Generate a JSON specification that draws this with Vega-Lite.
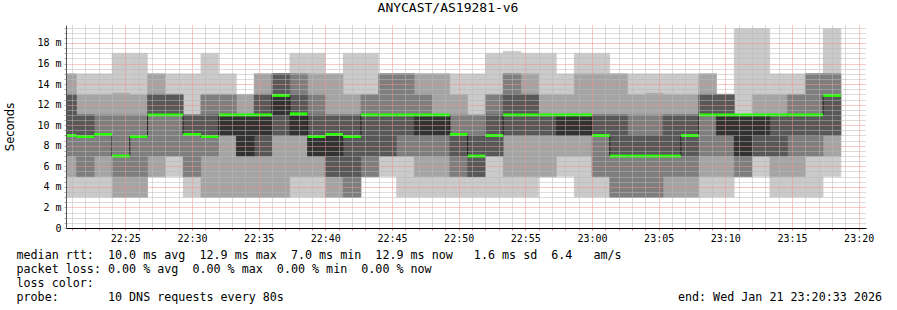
{
  "$schema": "https://vega.github.io/schema/vega-lite/v6.json",
  "width": 800,
  "height": 203,
  "autosize": {"type": "none"},
  "padding": {"left": 66, "top": 25, "right": 31, "bottom": 82},
  "background": "white",
  "title": {"text": "ANYCAST/AS19281-v6", "font": "DejaVu Sans Mono", "fontSize": 13, "fontWeight": "normal", "color": "#000000", "anchor": "middle", "frame": "group", "dx": -18, "dy": 14, "offset": 2, "baseline": "alphabetic"},
  "config": {
    "view": {"stroke": null},
    "axis": {"labelFont": "DejaVu Sans Mono", "labelFontSize": 10, "labelColor": "#000000", "titleFont": "DejaVu Sans Mono", "titleFontWeight": "normal", "titleColor": "#000000"}
  },
  "data": {"values": [
    {"t": "2026-01-21T22:20:00Z", "t2": "2026-01-21T22:21:20Z", "p1": 3, "p2": 5, "p3": 7, "p4": 9, "p5": 9, "p6": 9, "p7": 13, "p8": 13, "p9": 15, "p10": 15, "loss": "0"},
    {"t": "2026-01-21T22:21:20Z", "t2": "2026-01-21T22:22:40Z", "p1": 3, "p2": 5, "p3": 5, "p4": 8.9, "p5": 8.9, "p6": 8.9, "p7": 11, "p8": 11, "p9": 13, "p10": 15, "loss": "0"},
    {"t": "2026-01-21T22:22:40Z", "t2": "2026-01-21T22:24:00Z", "p1": 3, "p2": 5, "p3": 7, "p4": 9.1, "p5": 9.1, "p6": 9.1, "p7": 9.1, "p8": 11, "p9": 13, "p10": 15, "loss": "0"},
    {"t": "2026-01-21T22:24:00Z", "t2": "2026-01-21T22:25:20Z", "p1": 3, "p2": 3, "p3": 5, "p4": 7, "p5": 7, "p6": 7, "p7": 7, "p8": 11, "p9": 13.1, "p10": 17, "loss": "0"},
    {"t": "2026-01-21T22:25:20Z", "t2": "2026-01-21T22:26:40Z", "p1": 3, "p2": 3, "p3": 5, "p4": 8.9, "p5": 8.9, "p6": 8.9, "p7": 8.9, "p8": 11, "p9": 13, "p10": 17, "loss": "0"},
    {"t": "2026-01-21T22:26:40Z", "t2": "2026-01-21T22:28:00Z", "p1": 5, "p2": 5, "p3": 7, "p4": 11, "p5": 11, "p6": 11, "p7": 13, "p8": 13, "p9": 15, "p10": 15, "loss": "0"},
    {"t": "2026-01-21T22:28:00Z", "t2": "2026-01-21T22:29:20Z", "p1": 5, "p2": 7, "p3": 7, "p4": 11, "p5": 11, "p6": 11, "p7": 13, "p8": 13, "p9": 13, "p10": 15, "loss": "0"},
    {"t": "2026-01-21T22:29:20Z", "t2": "2026-01-21T22:30:40Z", "p1": 3, "p2": 5, "p3": 5, "p4": 9.1, "p5": 9.1, "p6": 9.1, "p7": 11, "p8": 11, "p9": 11, "p10": 15, "loss": "0"},
    {"t": "2026-01-21T22:30:40Z", "t2": "2026-01-21T22:32:00Z", "p1": 3, "p2": 3, "p3": 7, "p4": 8.9, "p5": 8.9, "p6": 8.9, "p7": 11, "p8": 13, "p9": 13, "p10": 17, "loss": "0"},
    {"t": "2026-01-21T22:32:00Z", "t2": "2026-01-21T22:33:20Z", "p1": 3, "p2": 3, "p3": 9, "p4": 9, "p5": 9, "p6": 11, "p7": 11, "p8": 13, "p9": 13, "p10": 15, "loss": "0"},
    {"t": "2026-01-21T22:33:20Z", "t2": "2026-01-21T22:34:40Z", "p1": 3, "p2": 3, "p3": 7, "p4": 7, "p5": 7, "p6": 11, "p7": 11, "p8": 11, "p9": 13, "p10": 13, "loss": "0"},
    {"t": "2026-01-21T22:34:40Z", "t2": "2026-01-21T22:36:00Z", "p1": 3, "p2": 3, "p3": 7, "p4": 7, "p5": 9, "p6": 11, "p7": 13, "p8": 13, "p9": 15, "p10": 15, "loss": "0"},
    {"t": "2026-01-21T22:36:00Z", "t2": "2026-01-21T22:37:20Z", "p1": 3, "p2": 3, "p3": 9, "p4": 9, "p5": 11, "p6": 12.9, "p7": 15, "p8": 15, "p9": 15, "p10": 15, "loss": "0"},
    {"t": "2026-01-21T22:37:20Z", "t2": "2026-01-21T22:38:40Z", "p1": 3, "p2": 5, "p3": 9, "p4": 9, "p5": 9, "p6": 11.1, "p7": 13, "p8": 15, "p9": 15, "p10": 17, "loss": "0"},
    {"t": "2026-01-21T22:38:40Z", "t2": "2026-01-21T22:40:00Z", "p1": 3, "p2": 5, "p3": 7, "p4": 7, "p5": 7, "p6": 8.9, "p7": 11, "p8": 13, "p9": 15, "p10": 17, "loss": "0"},
    {"t": "2026-01-21T22:40:00Z", "t2": "2026-01-21T22:41:20Z", "p1": 3, "p2": 3, "p3": 5, "p4": 5, "p5": 7, "p6": 9.1, "p7": 11, "p8": 11, "p9": 15, "p10": 15, "loss": "0"},
    {"t": "2026-01-21T22:41:20Z", "t2": "2026-01-21T22:42:40Z", "p1": 3, "p2": 3, "p3": 3, "p4": 5, "p5": 8.9, "p6": 8.9, "p7": 11, "p8": 11, "p9": 13, "p10": 17, "loss": "0"},
    {"t": "2026-01-21T22:42:40Z", "t2": "2026-01-21T22:44:00Z", "p1": 5, "p2": 5, "p3": 5, "p4": 7, "p5": 11, "p6": 11, "p7": 11, "p8": 13, "p9": 13, "p10": 17, "loss": "0"},
    {"t": "2026-01-21T22:44:00Z", "t2": "2026-01-21T22:45:20Z", "p1": 5, "p2": 7, "p3": 7, "p4": 7, "p5": 11, "p6": 11, "p7": 11, "p8": 15, "p9": 15, "p10": 15, "loss": "0"},
    {"t": "2026-01-21T22:45:20Z", "t2": "2026-01-21T22:46:40Z", "p1": 3, "p2": 7, "p3": 7, "p4": 9, "p5": 11, "p6": 11, "p7": 11, "p8": 15, "p9": 15, "p10": 15, "loss": "0"},
    {"t": "2026-01-21T22:46:40Z", "t2": "2026-01-21T22:48:00Z", "p1": 3, "p2": 5, "p3": 7, "p4": 9, "p5": 9, "p6": 11, "p7": 11, "p8": 13, "p9": 15, "p10": 15, "loss": "0"},
    {"t": "2026-01-21T22:48:00Z", "t2": "2026-01-21T22:49:20Z", "p1": 3, "p2": 5, "p3": 7, "p4": 9, "p5": 9, "p6": 11, "p7": 11, "p8": 11, "p9": 15, "p10": 15, "loss": "0"},
    {"t": "2026-01-21T22:49:20Z", "t2": "2026-01-21T22:50:40Z", "p1": 3, "p2": 5, "p3": 5, "p4": 7, "p5": 9.1, "p6": 9.1, "p7": 9.1, "p8": 11, "p9": 13, "p10": 15, "loss": "0"},
    {"t": "2026-01-21T22:50:40Z", "t2": "2026-01-21T22:52:00Z", "p1": 3, "p2": 5, "p3": 5, "p4": 5, "p5": 7, "p6": 7, "p7": 9, "p8": 11, "p9": 11, "p10": 15, "loss": "0"},
    {"t": "2026-01-21T22:52:00Z", "t2": "2026-01-21T22:53:20Z", "p1": 3, "p2": 7, "p3": 7, "p4": 7, "p5": 9, "p6": 9, "p7": 11, "p8": 13, "p9": 13, "p10": 17, "loss": "0"},
    {"t": "2026-01-21T22:53:20Z", "t2": "2026-01-21T22:54:40Z", "p1": 3, "p2": 5, "p3": 9, "p4": 9, "p5": 11, "p6": 11, "p7": 13, "p8": 15, "p9": 15, "p10": 17.2, "loss": "0"},
    {"t": "2026-01-21T22:54:40Z", "t2": "2026-01-21T22:56:00Z", "p1": 3, "p2": 5, "p3": 9, "p4": 9, "p5": 11, "p6": 11, "p7": 13, "p8": 13, "p9": 15, "p10": 17, "loss": "0"},
    {"t": "2026-01-21T22:56:00Z", "t2": "2026-01-21T22:57:20Z", "p1": 5, "p2": 5, "p3": 9, "p4": 9, "p5": 11, "p6": 11, "p7": 11, "p8": 11, "p9": 13, "p10": 17, "loss": "0"},
    {"t": "2026-01-21T22:57:20Z", "t2": "2026-01-21T22:58:40Z", "p1": 5, "p2": 7, "p3": 9, "p4": 9, "p5": 9, "p6": 11, "p7": 11, "p8": 11, "p9": 13, "p10": 15, "loss": "0"},
    {"t": "2026-01-21T22:58:40Z", "t2": "2026-01-21T23:00:00Z", "p1": 3, "p2": 7, "p3": 9, "p4": 9, "p5": 9, "p6": 11, "p7": 11, "p8": 11, "p9": 15, "p10": 17, "loss": "0"},
    {"t": "2026-01-21T23:00:00Z", "t2": "2026-01-21T23:01:20Z", "p1": 3, "p2": 5, "p3": 5, "p4": 9, "p5": 9, "p6": 9, "p7": 11, "p8": 11, "p9": 15, "p10": 17, "loss": "0"},
    {"t": "2026-01-21T23:01:20Z", "t2": "2026-01-21T23:02:40Z", "p1": 3, "p2": 3, "p3": 3, "p4": 7, "p5": 7, "p6": 7, "p7": 11, "p8": 11, "p9": 15, "p10": 15, "loss": "0"},
    {"t": "2026-01-21T23:02:40Z", "t2": "2026-01-21T23:04:00Z", "p1": 3, "p2": 3, "p3": 3, "p4": 7, "p5": 7, "p6": 7, "p7": 9, "p8": 11, "p9": 13, "p10": 15, "loss": "0"},
    {"t": "2026-01-21T23:04:00Z", "t2": "2026-01-21T23:05:20Z", "p1": 3, "p2": 3, "p3": 3, "p4": 7, "p5": 7, "p6": 7, "p7": 9, "p8": 11, "p9": 13.1, "p10": 15, "loss": "0"},
    {"t": "2026-01-21T23:05:20Z", "t2": "2026-01-21T23:06:40Z", "p1": 3, "p2": 3, "p3": 5, "p4": 7, "p5": 7, "p6": 7, "p7": 11, "p8": 11, "p9": 13, "p10": 15, "loss": "0"},
    {"t": "2026-01-21T23:06:40Z", "t2": "2026-01-21T23:08:00Z", "p1": 3, "p2": 3, "p3": 5, "p4": 7, "p5": 9, "p6": 9, "p7": 11, "p8": 11, "p9": 13, "p10": 15, "loss": "0"},
    {"t": "2026-01-21T23:08:00Z", "t2": "2026-01-21T23:09:20Z", "p1": 3, "p2": 5, "p3": 7, "p4": 11, "p5": 11, "p6": 11, "p7": 13, "p8": 13, "p9": 15, "p10": 15, "loss": "0"},
    {"t": "2026-01-21T23:09:20Z", "t2": "2026-01-21T23:10:40Z", "p1": 3, "p2": 5, "p3": 7, "p4": 9, "p5": 9, "p6": 11, "p7": 13, "p8": 13, "p9": 13, "p10": 13, "loss": "0"},
    {"t": "2026-01-21T23:10:40Z", "t2": "2026-01-21T23:12:00Z", "p1": 5, "p2": 5, "p3": 5, "p4": 7, "p5": 7, "p6": 11, "p7": 11, "p8": 11, "p9": 11, "p10": 19.4, "loss": "0"},
    {"t": "2026-01-21T23:12:00Z", "t2": "2026-01-21T23:13:20Z", "p1": 5, "p2": 7, "p3": 7, "p4": 7, "p5": 9, "p6": 11, "p7": 11, "p8": 11, "p9": 13, "p10": 19.4, "loss": "0"},
    {"t": "2026-01-21T23:13:20Z", "t2": "2026-01-21T23:14:40Z", "p1": 3, "p2": 5, "p3": 7, "p4": 7, "p5": 11, "p6": 11, "p7": 11, "p8": 11, "p9": 13, "p10": 15, "loss": "0"},
    {"t": "2026-01-21T23:14:40Z", "t2": "2026-01-21T23:16:00Z", "p1": 3, "p2": 5, "p3": 7, "p4": 9, "p5": 11, "p6": 11, "p7": 11, "p8": 13, "p9": 13, "p10": 15, "loss": "0"},
    {"t": "2026-01-21T23:16:00Z", "t2": "2026-01-21T23:17:20Z", "p1": 3, "p2": 7, "p3": 7, "p4": 9, "p5": 11, "p6": 11, "p7": 11, "p8": 15, "p9": 15, "p10": 15, "loss": "0"},
    {"t": "2026-01-21T23:17:20Z", "t2": "2026-01-21T23:18:40Z", "p1": 5, "p2": 7, "p3": 9, "p4": 9, "p5": 12.9, "p6": 12.9, "p7": 13, "p8": 15, "p9": 15, "p10": 19.4, "loss": "0"}
  ]},
  "layer": [
    {
      "mark": {"type": "rect", "color": "#cacaca", "stroke": "#cacaca", "strokeWidth": 0.5, "clip": true},
      "encoding": {
        "x": {"field": "t", "type": "temporal", "scale": {"type": "utc", "domain": [1769034033000, 1769037633000], "nice": false},
          "axis": {"orient": "bottom", "zindex": 1, "grid": true, "gridDash": [1, 1], "gridWidth": 1,
            "gridColor": {"condition": {"test": "(datum.value / 60000) % 5 == 0", "value": "#f09090"}, "value": "#b8b8b8"},
            "tickCount": 500,
            "values": [1769034060000, 1769034120000, 1769034180000, 1769034240000, 1769034300000, 1769034360000, 1769034420000, 1769034480000, 1769034540000, 1769034600000, 1769034660000, 1769034720000, 1769034780000, 1769034840000, 1769034900000, 1769034960000, 1769035020000, 1769035080000, 1769035140000, 1769035200000, 1769035260000, 1769035320000, 1769035380000, 1769035440000, 1769035500000, 1769035560000, 1769035620000, 1769035680000, 1769035740000, 1769035800000, 1769035860000, 1769035920000, 1769035980000, 1769036040000, 1769036100000, 1769036160000, 1769036220000, 1769036280000, 1769036340000, 1769036400000, 1769036460000, 1769036520000, 1769036580000, 1769036640000, 1769036700000, 1769036760000, 1769036820000, 1769036880000, 1769036940000, 1769037000000, 1769037060000, 1769037120000, 1769037180000, 1769037240000, 1769037300000, 1769037360000, 1769037420000, 1769037480000, 1769037540000, 1769037600000],
            "format": "%H:%M",
            "labelExpr": "(datum.value / 60000) % 5 == 0 ? datum.label : ''",
            "labelPadding": 3, "labelFlush": false, "labelOverlap": false, "labelSeparation": -100, "ticks": true, "tickColor": "#e07070", "tickSize": 2, "domain": true, "domainColor": "#000000", "domainWidth": 1,
            "title": ["median\u00a0rtt:\u00a0\u00a010.0\u00a0ms\u00a0avg\u00a0\u00a012.9\u00a0ms\u00a0max\u00a0\u00a07.0\u00a0ms\u00a0min\u00a0\u00a012.9\u00a0ms\u00a0now\u00a0\u00a0\u00a01.6\u00a0ms\u00a0sd\u00a0\u00a06.4\u00a0\u00a0\u00a0am/s", "packet\u00a0loss:\u00a00.00\u00a0%\u00a0avg\u00a0\u00a00.00\u00a0%\u00a0max\u00a0\u00a00.00\u00a0%\u00a0min\u00a0\u00a00.00\u00a0%\u00a0now", "loss\u00a0color:", "probe:\u00a0\u00a0\u00a0\u00a0\u00a0\u00a0\u00a010\u00a0DNS\u00a0requests\u00a0every\u00a080s\u00a0\u00a0\u00a0\u00a0\u00a0\u00a0\u00a0\u00a0\u00a0\u00a0\u00a0\u00a0\u00a0\u00a0\u00a0\u00a0\u00a0\u00a0\u00a0\u00a0\u00a0\u00a0\u00a0\u00a0\u00a0\u00a0\u00a0\u00a0\u00a0\u00a0\u00a0\u00a0\u00a0\u00a0\u00a0\u00a0\u00a0\u00a0\u00a0\u00a0\u00a0\u00a0\u00a0\u00a0\u00a0\u00a0\u00a0\u00a0\u00a0\u00a0\u00a0\u00a0\u00a0\u00a0\u00a0\u00a0end:\u00a0Wed\u00a0Jan\u00a021\u00a023:20:33\u00a02026"],
            "titleFontSize": 11.7, "titleAnchor": "start", "titleAlign": "left", "titleBaseline": "alphabetic", "titleX": -50, "titleY": 30.5, "titleLineHeight": 14}},
        "x2": {"field": "t2"},
        "y": {"field": "p1", "type": "quantitative", "scale": {"domain": [0, 19.75], "nice": false, "zero": true},
          "axis": {"orient": "left", "zindex": 1, "grid": true, "gridDash": [1, 1], "gridWidth": 1,
            "gridColor": {"condition": {"test": "datum.value % 2 == 0", "value": "#f09090"}, "value": "#b8b8b8"},
            "tickCount": 500,
            "values": [0, 0.5, 1, 1.5, 2, 2.5, 3, 3.5, 4, 4.5, 5, 5.5, 6, 6.5, 7, 7.5, 8, 8.5, 9, 9.5, 10, 10.5, 11, 11.5, 12, 12.5, 13, 13.5, 14, 14.5, 15, 15.5, 16, 16.5, 17, 17.5, 18, 18.5, 19, 19.5],
            "labelExpr": "datum.value % 2 == 0 ? (datum.value == 0 ? '0' : datum.value + ' m') : ''",
            "labelPadding": 3, "labelOverlap": false, "labelSeparation": -100, "ticks": true, "tickColor": "#aaaaaa", "tickSize": 2, "domain": true, "domainColor": "#555555", "domainWidth": 1,
            "title": "Seconds", "titleFont": "DejaVu Sans", "titleFontSize": 11.5, "titleAngle": -90, "titleAlign": "center", "titleBaseline": "middle", "titleX": -56, "titleY": 101.5}},
        "y2": {"field": "p10"}
      }
    },
    {
      "mark": {"type": "rect", "color": "#a4a4a4", "stroke": "#a4a4a4", "strokeWidth": 0.5, "clip": true},
      "encoding": {
        "x": {"field": "t", "type": "temporal"},
        "x2": {"field": "t2"},
        "y": {"field": "p2", "type": "quantitative"},
        "y2": {"field": "p9"}
      }
    },
    {
      "mark": {"type": "rect", "color": "#7e7e7e", "stroke": "#7e7e7e", "strokeWidth": 0.5, "clip": true},
      "encoding": {
        "x": {"field": "t", "type": "temporal"},
        "x2": {"field": "t2"},
        "y": {"field": "p3", "type": "quantitative"},
        "y2": {"field": "p8"}
      }
    },
    {
      "mark": {"type": "rect", "color": "#585858", "stroke": "#585858", "strokeWidth": 0.5, "clip": true},
      "encoding": {
        "x": {"field": "t", "type": "temporal"},
        "x2": {"field": "t2"},
        "y": {"field": "p4", "type": "quantitative"},
        "y2": {"field": "p7"}
      }
    },
    {
      "mark": {"type": "rect", "color": "#323232", "stroke": "#323232", "strokeWidth": 0.5, "clip": true},
      "encoding": {
        "x": {"field": "t", "type": "temporal"},
        "x2": {"field": "t2"},
        "y": {"field": "p5", "type": "quantitative"},
        "y2": {"field": "p6"}
      }
    },
    {
      "mark": {"type": "line", "interpolate": "step-after", "color": "#202020", "strokeWidth": 1, "clip": true},
      "encoding": {
        "x": {"field": "t", "type": "temporal"},
        "y": {"field": "p6", "type": "quantitative"}
      }
    },
    {
      "mark": {"type": "rule", "strokeWidth": 3, "strokeCap": "butt", "clip": true},
      "encoding": {
        "x": {"field": "t", "type": "temporal"},
        "x2": {"field": "t2"},
        "y": {"field": "p6", "type": "quantitative"},
        "stroke": {"field": "loss", "type": "nominal",
          "scale": {"domain": ["0", "1/10", "2/10", "3/10", "4/10", "5/10", "9/10"], "range": ["#26ff00", "#00b8ff", "#0059ff", "#5e00ff", "#7e00ff", "#dd00ff", "#ff0000"]},
          "legend": {"orient": "none", "legendX": 822, "legendY": -12, "direction": "vertical", "padding": 0, "title": "RRDTOOL / TOBI OETIKER", "titleOrient": "top", "titleAngle": 90, "titleAlign": "left", "titleBaseline": "middle", "titleFont": "DejaVu Sans Mono", "titleFontSize": 8.3, "titleFontWeight": "normal", "titleColor": "#aaaaaa", "titlePadding": 0, "labelExpr": "''", "symbolOpacity": 0, "symbolSize": 1, "labelOpacity": 0, "labelFontSize": 1}}
      }
    },
    {
      "mark": {"type": "point", "shape": "square", "filled": true, "opacity": 0, "clip": true},
      "encoding": {
        "x": {"field": "t", "type": "temporal"},
        "y": {"field": "p6", "type": "quantitative"},
        "color": {"field": "loss", "type": "nominal",
          "scale": {"domain": ["0", "1/10", "2/10", "3/10", "4/10", "5/10", "9/10"], "range": ["#26ff00", "#00b8ff", "#0059ff", "#5e00ff", "#7e00ff", "#dd00ff", "#ff0000"]},
          "legend": {"orient": "none", "legendX": 42, "legendY": 251, "direction": "horizontal", "padding": 0, "title": null, "symbolType": "square", "symbolSize": 81, "symbolOpacity": 1, "symbolStrokeColor": "#000000", "symbolStrokeWidth": 1, "labelFont": "DejaVu Sans Mono", "labelFontSize": 11.7, "labelColor": "#000000", "labelOffset": 6, "columnPadding": 9}}
      }
    }
  ]
}
